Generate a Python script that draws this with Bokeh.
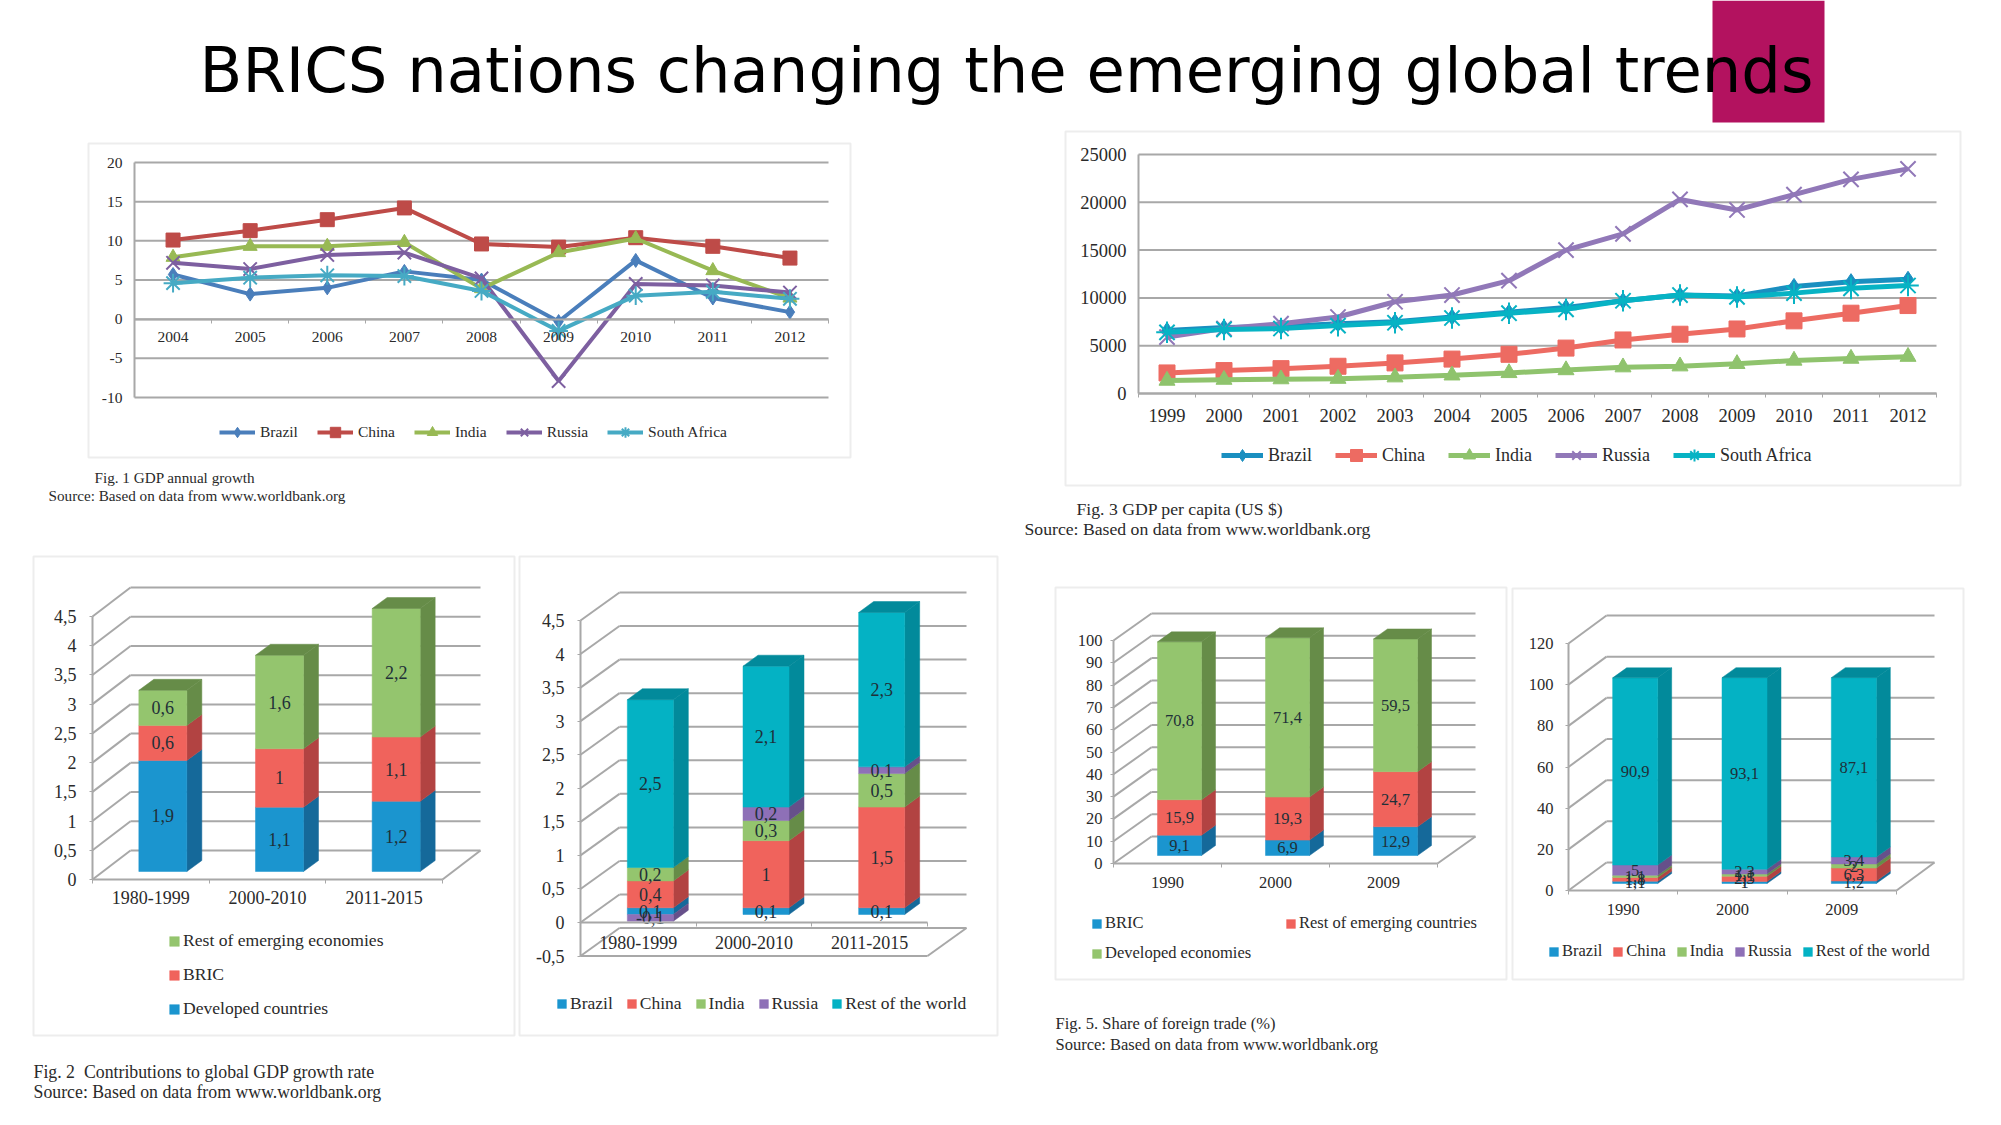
from bokeh.plotting import figure
from bokeh.layouts import column, row
from bokeh.models import Range1d, FixedTicker, Label, BoxAnnotation, Legend, LegendItem
from bokeh.core.properties import value
from bokeh.embed import file_html
from bokeh.resources import INLINE

TITLE = "BRICS nations changing the emerging global trends"

# Fig. 1
years1 = [2004, 2005, 2006, 2007, 2008, 2009, 2010, 2011, 2012]
brazil1 = [5.7, 3.2, 4.0, 6.1, 5.0, -0.3, 7.5, 2.7, 0.9]
china1 = [10.1, 11.3, 12.7, 14.2, 9.6, 9.2, 10.4, 9.3, 7.8]
india1 = [7.9, 9.3, 9.3, 9.8, 3.9, 8.5, 10.3, 6.2, 2.7]
russia1 = [7.2, 6.4, 8.2, 8.5, 5.2, -7.9, 4.5, 4.3, 3.4]
safrica1 = [4.6, 5.3, 5.6, 5.5, 3.6, -1.5, 3.0, 3.5, 2.6]

# Fig. 3
years3 = [1999, 2000, 2001, 2002, 2003, 2004, 2005, 2006, 2007, 2008, 2009, 2010, 2011, 2012]
brazil3 = [6600, 6900, 7000, 7300, 7500, 8000, 8500, 9000, 9700, 10300, 10200, 11200, 11700, 11950]
china3 = [2150, 2400, 2600, 2850, 3200, 3600, 4100, 4750, 5600, 6200, 6750, 7600, 8400, 9200]
india3 = [1350, 1450, 1500, 1550, 1700, 1900, 2150, 2450, 2750, 2850, 3100, 3450, 3650, 3850]
russia3 = [5900, 6800, 7300, 8000, 9600, 10300, 11800, 15000, 16700, 20300, 19200, 20800, 22400, 23500]
safrica3 = [6400, 6700, 6800, 7100, 7400, 7900, 8400, 8800, 9700, 10300, 10100, 10500, 11000, 11300]

# Fig. 2 (left and right)
periods = ["1980-1999", "2000-2010", "2011-2015"]
developed2 = [1.9, 1.1, 1.2]
bric2 = [0.6, 1, 1.1]
emerging2 = [0.6, 1.6, 2.2]
brazil4 = [0.1, 0.1, 0.1]
china4 = [0.4, 1, 1.5]
india4 = [0.2, 0.3, 0.5]
russia4 = [-0.1, 0.2, 0.1]
rest4 = [2.5, 2.1, 2.3]

# Fig. 5 (left and right)
decades = ["1990", "2000", "2009"]
bric5 = [9.1, 6.9, 12.9]
emerging5 = [15.9, 19.3, 24.7]
developed5 = [70.8, 71.4, 59.5]
brazil6 = [1.1, 1.0, 1.2]
china6 = [1.8, 2.5, 6.3]
india6 = [1.1, 1.1, 2.0]
russia6 = [5, 2.3, 3.4]
rest6 = [90.9, 93.1, 87.1]

SERIF = "Liberation Serif"
GRID = "#a8a8a8"
PANEL = "#c4c4c4"
TXT = "#2a2a2a"
BLUE = ("#1b95cf", "#15699a")
RED = ("#f0635c", "#b24342")
GREEN = ("#94c56e", "#668c48")
PURPLE = ("#8e70b7", "#66508a")
TEAL = ("#04b2c4", "#028a9b")


def make_fig(box, xr, yr):
    X0, Y0, W, H = box
    p = figure(width=W, height=H, x_range=Range1d(*xr), y_range=Range1d(*yr),
               output_backend="svg", toolbar_location=None, min_border=0,
               outline_line_color=None, background_fill_color="white", border_fill_color="white")
    p.extra_x_ranges["page"] = Range1d(X0, X0 + W)
    p.extra_y_ranges["page"] = Range1d(Y0 + H, Y0)
    p.xgrid.visible = False
    p.ygrid.visible = False
    return p


def page_text(p, x, y, s, size):
    p.add_layout(Label(x=x, y=y, text=s, x_range_name="page", y_range_name="page",
                       text_font=SERIF, text_font_size=f"{size}px", text_baseline="middle",
                       text_color=TXT))


def panel(p, x0, x1, y0, y1):
    p.add_layout(BoxAnnotation(left=x0, right=x1, top=y0, bottom=y1, x_range_name="page",
                               y_range_name="page", fill_alpha=0, line_color=PANEL, line_width=2,
                               level="underlay"))


def style_axes(p, yticks, ylabels, ymin, ymax, centers, names, edges, tick_px, size, standoff, ystand):
    ya = p.yaxis[0]
    ya.fixed_location = edges[0]
    ya.ticker = FixedTicker(ticks=yticks)
    ya.major_label_overrides = dict(zip(yticks, ylabels))
    ya.bounds = (ymin, ymax)
    ya.axis_line_color = GRID
    ya.axis_line_width = 2
    ya.major_tick_line_color = GRID
    ya.major_tick_in = 0
    ya.major_tick_out = tick_px
    ya.minor_tick_line_color = None
    ya.major_label_text_font = SERIF
    ya.major_label_text_font_size = f"{size}px"
    ya.major_label_text_color = TXT
    ya.major_label_standoff = ystand
    xa = p.xaxis[0]
    xa.fixed_location = 0
    xa.ticker = FixedTicker(ticks=centers, minor_ticks=edges)
    xa.major_label_overrides = dict(zip(centers, names))
    xa.bounds = (edges[0], edges[-1])
    xa.axis_line_color = GRID
    xa.axis_line_width = 2
    xa.major_tick_line_color = None
    xa.minor_tick_line_color = GRID
    xa.minor_tick_out = 4
    xa.minor_tick_in = 0
    xa.major_tick_in = 0
    xa.major_tick_out = 0
    xa.major_label_text_font = SERIF
    xa.major_label_text_font_size = f"{size}px"
    xa.major_label_text_color = TXT
    xa.major_label_standoff = standoff


def place_legend(p, box, items, lx, bottom, size, orientation="horizontal", spacing=12,
                 gw=12, gh=12, standoff=4):
    X0, Y0, W, H = box
    leg = Legend(items=items, location=(lx - X0, Y0 + H - bottom), orientation=orientation,
                 spacing=spacing, padding=0, margin=0, glyph_width=gw, glyph_height=gh,
                 label_standoff=standoff, label_text_font=SERIF, label_text_font_size=f"{size}px",
                 label_text_color=TXT, border_line_color=None, background_fill_alpha=0,
                 label_height=20)
    p.add_layout(leg)


def line_chart(box, l, r, t, b, years, series, yticks, ylabels, size, lw, ms, leg, frame, standoff, ystand):
    X0, Y0, W, H = box
    ymin, ymax = yticks[0], yticks[-1]
    yu = (ymax - ymin) / (b - t)
    xu = len(years) / (r - l)
    x0, x1 = years[0] - .5, years[-1] + .5
    p = make_fig(box, (x0 + (X0 - l) * xu, x0 + (X0 + W - l) * xu),
                 (ymax - (Y0 + H - t) * yu, ymax - (Y0 - t) * yu))
    panel(p, *frame)
    style_axes(p, yticks, ylabels, ymin, ymax, years, [str(y) for y in years],
               [y - .5 for y in years] + [x1], 0, size, standoff, ystand)
    p.segment([x0] * len(yticks), yticks, [x1] * len(yticks), yticks, line_color=GRID, line_width=2)
    items = []
    for name, vals, col, mk in series:
        ln = p.line(years, vals, line_color=col, line_width=lw)
        thin = mk in ("x", "asterisk")
        sc = p.scatter(years, vals, marker=mk, size=ms * 1.35 if thin else ms, fill_color=col,
                       line_color=col, line_width=2 if thin else 1)
        items.append(LegendItem(label=name, renderers=[ln, sc]))
    place_legend(p, box, items, leg[0], leg[1], leg[2], spacing=leg[3], gw=leg[4], gh=leg[5], standoff=5)
    return p


def fmt(v):
    return f"{v:g}".replace(".", ",")


def bar3d(box, axis_x, front_r, back_r, y_zero, y_top, ymin, ymax, yticks, names, series,
          size, frame, depth, bar_px, shift=(12, 8), bdepth=(15, 11), standoff=9, ystand=12):
    X0, Y0, W, H = box
    cat_px = (front_r - axis_x) / len(names)
    val_px = (y_zero - y_top) / ymax
    dx, dy = depth[0] / cat_px, depth[1] / val_px
    p = make_fig(box, ((X0 - axis_x) / cat_px, (X0 + W - axis_x) / cat_px),
                 ((y_zero - Y0 - H) / val_px, (y_zero - Y0) / val_px))
    panel(p, *frame)
    n = len(names)
    ylabels = [fmt(v) for v in yticks]
    style_axes(p, yticks, ylabels, ymin, ymax, [i + .5 for i in range(n)], names,
               list(range(n + 1)), 3, size, standoff, ystand)
    # back wall and left wall
    p.segment([dx] * len(yticks), [v + dy for v in yticks], [n + dx] * len(yticks),
              [v + dy for v in yticks], line_color=GRID, line_width=2)
    p.segment([0] * len(yticks), yticks, [dx] * len(yticks), [v + dy for v in yticks],
              line_color=GRID, line_width=2)
    # floor
    fl = ymin if ymin < 0 else 0
    p.segment([n], [fl], [n + dx], [fl + dy], line_color=GRID, line_width=2)
    if ymin < 0:
        p.segment([0], [fl], [n], [fl], line_color=GRID, line_width=2)
    w = bar_px / cat_px
    sx, sy = shift[0] / cat_px, shift[1] / val_px
    bx, by = bdepth[0] / cat_px, bdepth[1] / val_px
    pos = [0.0] * n
    neg = [0.0] * n
    rends = {}
    lab_x, lab_y, lab_t = [], [], []
    geom = []
    for name, vals, cols in series:
        lo, hi = [], []
        for i, v in enumerate(vals):
            if v >= 0:
                lo.append(pos[i]); hi.append(pos[i] + v); pos[i] += v
            else:
                hi.append(neg[i]); lo.append(neg[i] + v); neg[i] += v
        geom.append((name, vals, cols, lo, hi))
    L = [i + .5 + sx - w / 2 for i in range(n)]
    R = [i + .5 + sx + w / 2 for i in range(n)]
    for name, vals, cols, lo, hi in geom:
        p.patches([[R[i], R[i] + bx, R[i] + bx, R[i]] for i in range(n)],
                  [[lo[i] + sy, lo[i] + sy + by, hi[i] + sy + by, hi[i] + sy] for i in range(n)],
                  fill_color=cols[1], line_color=cols[1], line_width=.5)
        q = p.quad(left=L, right=R, bottom=[v + sy for v in lo], top=[v + sy for v in hi],
                   fill_color=cols[0], line_color=cols[0], line_width=.5)
        rends[name] = q
        for i in range(n):
            lab_x.append(i + .5 + sx)
            lab_y.append((lo[i] + hi[i]) / 2 + sy)
            lab_t.append(fmt(vals[i]))
    cap = geom[-1]
    p.patches([[L[i], R[i], R[i] + bx, L[i] + bx] for i in range(n)],
              [[cap[4][i] + sy, cap[4][i] + sy, cap[4][i] + sy + by, cap[4][i] + sy + by] for i in range(n)],
              fill_color=cap[2][1], line_color=cap[2][1], line_width=.5)
    p.text(lab_x, lab_y, text=lab_t, text_align="center", text_baseline="middle",
           text_font=value(SERIF), text_font_size=f"{size}px", text_color="#1f3038")
    return p, rends


# header
hdr = figure(width=2001, height=125, x_range=Range1d(0, 2001), y_range=Range1d(125, 0),
             output_backend="svg", toolbar_location=None, x_axis_location=None, y_axis_location=None,
             min_border=0, outline_line_color=None)
hdr.grid.visible = False
hdr.quad(left=[1712], right=[1824], top=[0], bottom=[122], fill_color="#b3125f", line_color=None)
hdr.text([1006], [70], text=[TITLE], text_align="center", text_baseline="middle",
         text_font=value("DejaVu Sans"), text_font_size="62.4px", text_color="#000000")

# Fig 1
B1 = (0, 125, 1002, 420)
f1 = line_chart(B1, 134, 828, 162, 397, years1,
                [("Brazil", brazil1, "#4a7ebb", "diamond"), ("China", china1, "#be4b48", "square"),
                 ("India", india1, "#98b954", "triangle"), ("Russia", russia1, "#7d5fa0", "x"),
                 ("South Africa", safrica1, "#46aac4", "asterisk")],
                [-10, -5, 0, 5, 10, 15, 20], ["-10", "-5", "0", "5", "10", "15", "20"],
                15.5, 4, 14, (219, 445, 15.5, 19, 36, 26), (88, 850, 143, 457), 9, 12)
page_text(f1, 94, 477, "Fig. 1 GDP annual growth", 15.2)
page_text(f1, 48, 495, "Source: Based on data from www.worldbank.org", 15.2)

# Fig 3
B3 = (1002, 125, 999, 450)
f3 = line_chart(B3, 1138, 1936, 154, 393, years3,
                [("Brazil", brazil3, "#1a8fc0", "diamond"), ("China", china3, "#ed6b62", "square"),
                 ("India", india3, "#8fc36d", "triangle"), ("Russia", russia3, "#9178b8", "x"),
                 ("South Africa", safrica3, "#07b3c4", "asterisk")],
                [0, 5000, 10000, 15000, 20000, 25000], ["0", "5000", "10000", "15000", "20000", "25000"],
                18.5, 5, 16, (1221, 470, 18, 23, 42, 30), (1065, 1960, 131, 485), 11, 12)
page_text(f3, 1076, 508, "Fig. 3 GDP per capita (US $)", 17.7)
page_text(f3, 1024, 528, "Source: Based on data from www.worldbank.org", 17.7)

# Fig 2 left
B2 = (0, 545, 517, 565)
f2, r2 = bar3d(B2, 92, 442, 483, 879, 616, 0, 4.5,
               [0, .5, 1, 1.5, 2, 2.5, 3, 3.5, 4, 4.5], periods,
               [("Developed countries", developed2, BLUE), ("BRIC", bric2, RED),
                ("Rest of emerging economies", emerging2, GREEN)],
               18, (33, 514, 556, 1035), (38, 29), 48, standoff=7, ystand=13)
place_legend(f2, B2, [LegendItem(label=k, renderers=[r2[k]]) for k in
                      ["Rest of emerging economies", "BRIC", "Developed countries"]],
             168, 1019, 17.6, orientation="vertical", spacing=13, gw=12, gh=12, standoff=3)
page_text(f2, 33, 1071, "Fig. 2 \u00a0Contributions to global GDP growth rate", 17.8)
page_text(f2, 33, 1091, "Source: Based on data from www.worldbank.org", 17.8)

# Fig 2 right
B4 = (517, 545, 485, 565)
f4, r4 = bar3d(B4, 580, 927, 967, 922, 620, -.5, 4.5,
               [-.5, 0, .5, 1, 1.5, 2, 2.5, 3, 3.5, 4, 4.5], periods,
               [("Brazil", brazil4, BLUE), ("China", china4, RED), ("India", india4, GREEN),
                ("Russia", russia4, PURPLE), ("Rest of the world", rest4, TEAL)],
               18, (519, 997, 556, 1035), (39, 28), 46, ystand=13)
place_legend(f4, B4, [LegendItem(label=k, renderers=[r4[k]]) for k in
                      ["Brazil", "China", "India", "Russia", "Rest of the world"]],
             556, 1014, 17.5, spacing=13, gw=11, gh=11, standoff=3)

# Fig 5 left
B5 = (1002, 575, 507, 535)
f5, r5 = bar3d(B5, 1113, 1437, 1474, 863, 640, 0, 100,
               list(range(0, 101, 10)), decades,
               [("BRIC", bric5, BLUE), ("Rest of emerging countries", emerging5, RED),
                ("Developed economies", developed5, GREEN)],
               16.5, (1055, 1506, 587, 979), (38, 27), 44, bdepth=(14, 10), ystand=8)
place_legend(f5, B5, [LegendItem(label=k, renderers=[r5[k]]) for k in ["BRIC", "Developed economies"]],
             1091, 963, 16.5, orientation="vertical", spacing=10, gw=11, gh=11, standoff=3)
place_legend(f5, B5, [LegendItem(label="Rest of emerging countries", renderers=[r5["Rest of emerging countries"]])],
             1285, 933, 16.5, orientation="vertical", gw=11, gh=11, standoff=3)
page_text(f5, 1055, 1023, "Fig. 5. Share of foreign trade (%)", 16.5)
page_text(f5, 1055, 1044, "Source: Based on data from www.worldbank.org", 16.5)

# Fig 5 right
B6 = (1509, 575, 492, 535)
f6, r6 = bar3d(B6, 1568, 1896, 1934, 890, 643, 0, 120,
               list(range(0, 121, 20)), decades,
               [("Brazil", brazil6, BLUE), ("China", china6, RED), ("India", india6, GREEN),
                ("Russia", russia6, PURPLE), ("Rest of the world", rest6, TEAL)],
               16.5, (1512, 1963, 588, 979), (38, 28), 45, shift=(12, 7), bdepth=(14, 10), ystand=12)
place_legend(f6, B6, [LegendItem(label=k, renderers=[r6[k]]) for k in
                      ["Brazil", "China", "India", "Russia", "Rest of the world"]],
             1548, 961, 16.5, spacing=10, gw=11, gh=11, standoff=3)

page = column(hdr,
              row(column(f1, row(f2, f4, spacing=0), spacing=0),
                  column(f3, row(f5, f6, spacing=0), spacing=0), spacing=0),
              spacing=0, margin=0)
open("out.html", "w").write(file_html(page, INLINE))
